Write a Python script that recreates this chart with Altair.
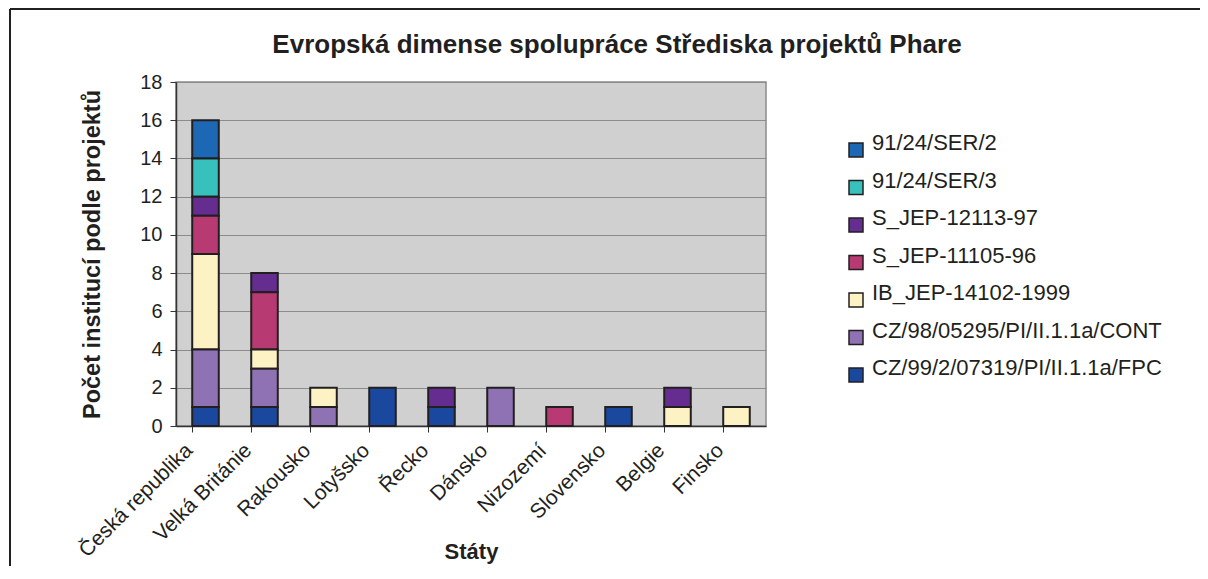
import altair as alt
import pandas as pd

countries = ["Česká republika", "Velká Británie", "Rakousko", "Lotyšsko", "Řecko",
             "Dánsko", "Nizozemí", "Slovensko", "Belgie", "Finsko"]
projects = ["91/24/SER/2", "91/24/SER/3", "S_JEP-12113-97", "S_JEP-11105-96",
            "IB_JEP-14102-1999", "CZ/98/05295/PI/II.1.1a/CONT", "CZ/99/2/07319/PI/II.1.1a/FPC"]
colors = ["#1c68b4", "#38c0bc", "#662d91", "#b83a72", "#fcf2c4", "#8e72b4", "#1a489e"]

ser2 =  [2, 0, 0, 0, 0, 0, 0, 0, 0, 0]
ser3 =  [2, 0, 0, 0, 0, 0, 0, 0, 0, 0]
j12113 = [1, 1, 0, 0, 1, 0, 0, 0, 1, 0]
j11105 = [2, 3, 0, 0, 0, 0, 1, 0, 0, 0]
ib =    [5, 1, 1, 0, 0, 0, 0, 0, 1, 1]
cont =  [3, 2, 1, 0, 0, 2, 0, 0, 0, 0]
fpc =   [1, 1, 0, 2, 1, 0, 0, 1, 0, 0]

series = [ser2, ser3, j12113, j11105, ib, cont, fpc]
rows = []
for pi, (p, vals) in enumerate(zip(projects, series)):
    for c, v in zip(countries, vals):
        if v > 0:
            rows.append({"Stát": c, "Projekt": p, "Počet": v, "poradi": len(projects) - pi})
df = pd.DataFrame(rows)

FONT = "Liberation Sans"
INK = "#231f20"

bars = alt.Chart(df).mark_bar(stroke=INK, strokeWidth=2).encode(
    x=alt.X("Stát:N", sort=countries,
            scale=alt.Scale(paddingInner=0.55, paddingOuter=0.275),
            axis=alt.Axis(title="Státy", labelAngle=315, labelAlign="right",
                          labelBaseline="middle", bandPosition=0, tickSize=6,
                          labelPadding=15, labelOffset=-16,
                          labelFontSize=21, titleFontSize=22,
                          titleY=125, titleBaseline="middle")),
    y=alt.Y("sum(Počet):Q", scale=alt.Scale(domain=[0, 18]),
            axis=alt.Axis(title="Počet institucí podle projektů", values=list(range(0, 19, 2)),
                          tickSize=6, labelPadding=8, labelFontSize=20,
                          titleFontSize=23.5, titlePadding=35, grid=True)),
    color=alt.Color("Projekt:N", scale=alt.Scale(domain=projects, range=colors),
                    legend=alt.Legend(title=None, orient="none", legendX=669, legendY=57,
                                      symbolType="square", symbolSize=196,
                                      symbolStrokeColor=INK, symbolStrokeWidth=1.5,
                                      labelFontSize=22, labelFont=FONT, labelColor=INK,
                                      labelBaseline="alphabetic",
                                      rowPadding=9.5, labelOffset=5, padding=0,
                                      labelLimit=400)),
    order=alt.Order("poradi:Q", sort="ascending"),
)

border_df = pd.DataFrame({"k": [0]})
left_border = alt.Chart(border_df).mark_rule(color=INK, strokeWidth=2).encode(
    x=alt.value(-166), y=alt.value(-73), y2=alt.value(500))
top_border = alt.Chart(border_df).mark_rule(color=INK, strokeWidth=2).encode(
    x=alt.value(-166), x2=alt.value(1040), y=alt.value(-73))

chart = alt.layer(bars, left_border, top_border).properties(
    width=590, height=344,
    title=alt.TitleParams("Evropská dimense spolupráce Střediska projektů Phare",
                          fontSize=26, font=FONT, fontWeight="bold", color=INK,
                          frame="group", dx=146, offset=-50),
    autosize=alt.AutoSizeParams(type="none"),
    padding={"left": 168, "top": 74, "right": 434, "bottom": 140},
).configure_view(
    fill="#d0d0d0", stroke="#8a8a8a", strokeWidth=1.5
).configure_axis(
    labelFont=FONT, titleFont=FONT, labelColor=INK, titleColor=INK,
    domainColor="#333333", tickColor="#333333", gridColor="#8c8c8c", gridWidth=1.2,
    domainWidth=1.5, titleFontWeight="bold"
).configure_axisX(grid=False)

chart.save("out.html", embed_options={"renderer": "svg", "actions": False})
